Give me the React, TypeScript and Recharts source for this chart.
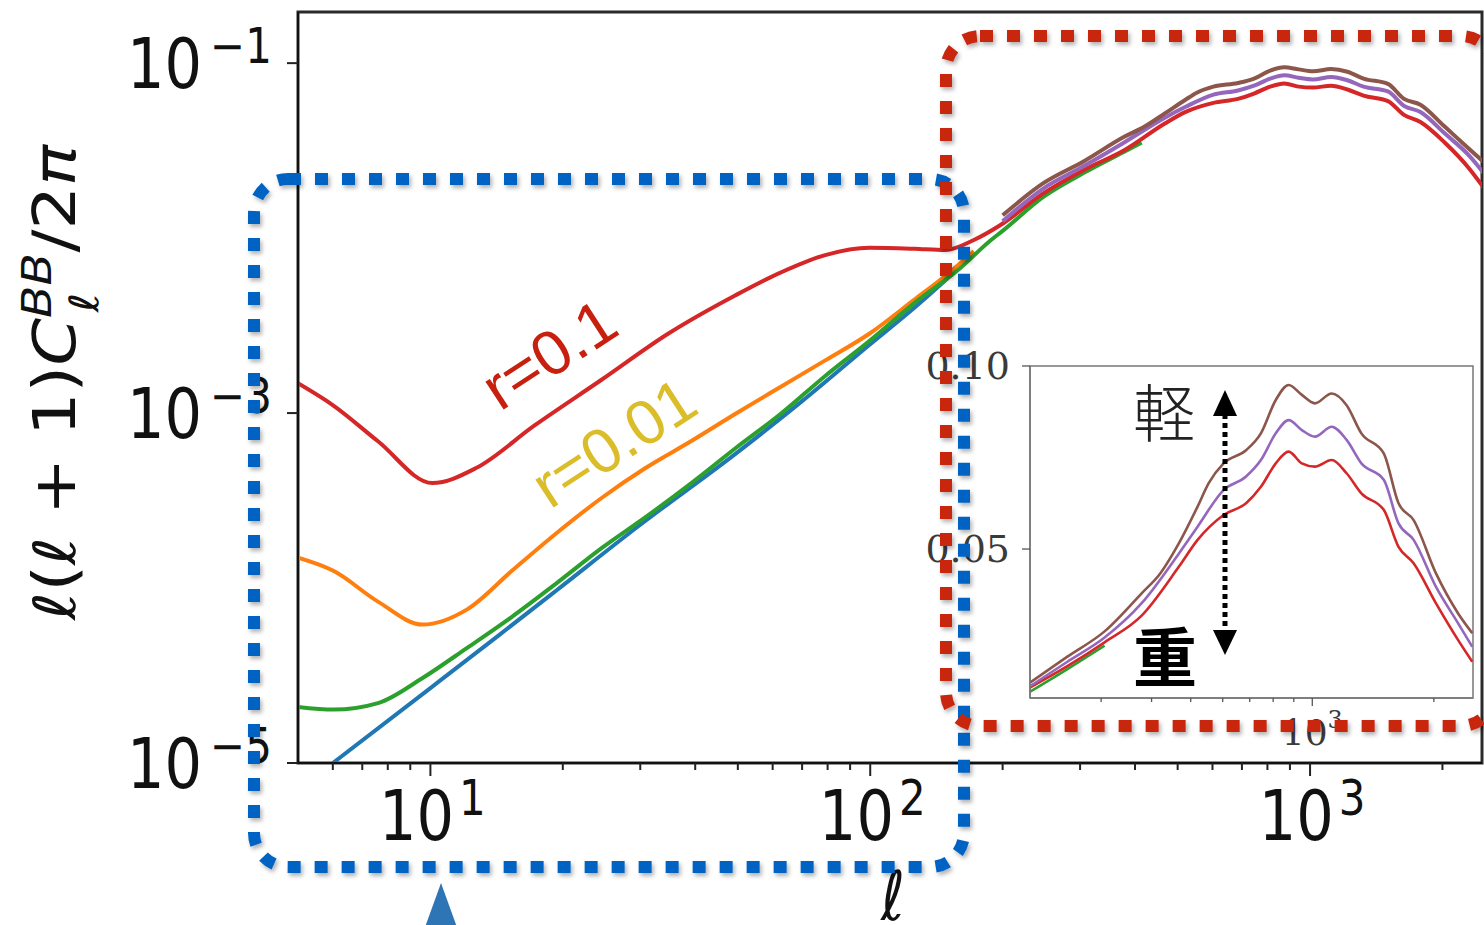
import { LineChart, Line, XAxis, YAxis, ReferenceArea } from 'recharts'

// multipole values and l(l+1)C_l/2pi, one pair of arrays per curve
const redL = [5, 6.03, 7.6, 10.1, 12.7, 17.25, 24.5, 34.7, 49.3, 62.5, 79, 99.5, 126, 148, 172, 197, 247.5, 306, 378, 467.6, 520, 603, 685.5, 746, 812, 874, 942, 1015, 1117, 1216, 1323, 1503, 1635, 1782, 2023, 2297, 2490]
const redV = [1.48e-3, 1.1e-3, 6.9e-4, 3.98e-4, 4.85e-4, 8.5e-4, 1.55e-3, 2.84e-3, 4.7e-3, 6.35e-3, 8.0e-3, 8.82e-3, 8.69e-3, 8.54e-3, 9.75e-3, 0.0118, 0.018, 0.0245, 0.0318, 0.0452, 0.0525, 0.0593, 0.0625, 0.067, 0.0734, 0.0766, 0.0734, 0.0725, 0.0743, 0.0707, 0.0652, 0.0607, 0.0506, 0.0461, 0.0352, 0.0251, 0.0192]

const orangeL = [5, 6.03, 7.6, 9.6, 12.15, 15.3, 19.4, 24.5, 30.9, 39.2, 49.3, 62.5, 79, 99.5, 126, 148, 172]
const orangeV = [1.49e-4, 1.25e-4, 8.36e-5, 6.18e-5, 7.58e-5, 1.25e-4, 2.07e-4, 3.27e-4, 4.87e-4, 6.92e-4, 9.87e-4, 1.41e-3, 2.0e-3, 2.84e-3, 4.45e-3, 6.07e-3, 8.4e-3]

const greenL = [5, 6.03, 7.6, 9.6, 12.15, 15.3, 19.4, 24.5, 30.9, 39.2, 49.3, 62.5, 79, 99.5, 126, 159.6, 186.8, 200, 247.5, 306, 378, 414]
const greenV = [2.09e-5, 2.02e-5, 2.2e-5, 3.06e-5, 4.57e-5, 6.83e-5, 1.07e-4, 1.69e-4, 2.55e-4, 3.98e-4, 6.27e-4, 9.87e-4, 1.63e-3, 2.58e-3, 4.25e-3, 6.68e-3, 9.6e-3, 0.011, 0.0172, 0.0236, 0.0312, 0.0352]

const blueL = [6, 10, 14.35, 19.4, 30, 49.3, 70, 99.5, 126, 150]
const blueV = [1.0e-5, 2.68e-5, 5.4e-5, 9.75e-5, 2.3e-4, 5.83e-4, 1.17e-3, 2.45e-3, 4.0e-3, 5.9e-3]

const purpleL = [200, 247.5, 306, 378, 467.6, 520, 603, 685.5, 746, 812, 874, 942, 1015, 1117, 1216, 1323, 1503, 1635, 1782, 2023, 2297, 2490]
const purpleV = [0.0125, 0.0192, 0.0258, 0.0352, 0.0488, 0.0561, 0.0661, 0.0698, 0.0743, 0.0816, 0.0852, 0.0825, 0.0807, 0.0834, 0.0798, 0.0734, 0.0689, 0.057, 0.0525, 0.0397, 0.0297, 0.0233]

const brownL = [200, 247.5, 306, 378, 420.7, 467.6, 520, 554, 603, 685.5, 746, 812, 874, 942, 1015, 1117, 1216, 1323, 1503, 1635, 1782, 2023, 2297, 2490]
const brownV = [0.0135, 0.0206, 0.0275, 0.0379, 0.0434, 0.0516, 0.0616, 0.068, 0.0734, 0.077, 0.0816, 0.0907, 0.0948, 0.0921, 0.0898, 0.0925, 0.0893, 0.0816, 0.0761, 0.0625, 0.0579, 0.0434, 0.0324, 0.027]

const mainXTicks = [6, 7, 8, 9, 10, 20, 30, 40, 50, 60, 70, 80, 90, 100, 200, 300, 400, 500, 600, 700, 800, 900, 1000, 2000]
const mainYTicks = [1e-5, 1e-3, 1e-1]
const insetXTicks = [300, 400, 500, 600, 700, 800, 900, 1000, 2000]
const insetYTicks = [0.05, 0.1]
const insetYLabels = ['0.05', '0.10']

const zip = (ls: number[], vs: number[]) => ls.map((l, i) => ({ l, v: vs[i] }))
const red = zip(redL, redV)
const orange = zip(orangeL, orangeV)
const green = zip(greenL, greenV)
const blue = zip(blueL, blueV)
const purple = zip(purpleL, purpleV)
const brown = zip(brownL, brownV)
const between = (d: { l: number; v: number }[], lo: number, hi = Infinity) => d.filter(p => p.l >= lo && p.l <= hi)

const C = { blue: '#1f77b4', orange: '#ff7f0e', green: '#2ca02c', red: '#d62728', purple: '#9467bd', brown: '#8c564b' }
const SANS = '"DejaVu Sans", sans-serif'
const SERIF = '"DejaVu Serif", serif'
const ARIAL = '"Liberation Sans", Arial, sans-serif'

const isMajor = (v: number) => Math.abs(Math.log10(v) - Math.round(Math.log10(v))) < 1e-6

function MainXTick({ x, y, payload }: any) {
  const v = payload.value
  const major = isMajor(v)
  return (
    <g>
      <line x1={x} x2={x} y1={y} y2={y + (major ? 13 : 7)} stroke="#222" strokeWidth={2} />
      {major && (
        <g transform={`translate(${x + 2},${y}) scale(1,1.18)`}>
          <text y={65} textAnchor="middle" fontFamily={SANS} fontSize={59} fill="#111">
            <tspan>10</tspan>
            <tspan dx={5} dy={-21} fontSize={42}>{Math.round(Math.log10(v))}</tspan>
          </text>
        </g>
      )}
    </g>
  )
}

function MainYTick({ x, y, payload }: any) {
  const p = Math.round(Math.log10(payload.value))
  return (
    <g>
      <line x1={x - 11} x2={x} y1={y} y2={y} stroke="#222" strokeWidth={2} />
      <g transform={`translate(${x - 26},${y}) scale(1,1.18)`}>
        <text y={21} textAnchor="end" fontFamily={SANS} fontSize={59} fill="#111">
          <tspan>10</tspan>
          <tspan dx={8} dy={-21} fontSize={42}>{'\u2212' + -p}</tspan>
        </text>
      </g>
    </g>
  )
}

function InsetXTick({ x, y, payload }: any) {
  const major = isMajor(payload.value)
  return (
    <g>
      <line x1={x} x2={x} y1={y} y2={y + (major ? 8 : 4)} stroke="#555" strokeWidth={1.3} />
      {major && (
        <text x={x} y={y + 47} textAnchor="middle" fontFamily={SERIF} fontSize={36} fill="#3a3a3a">
          <tspan>10</tspan>
          <tspan dy={-17} fontSize={24}>3</tspan>
        </text>
      )}
    </g>
  )
}

function InsetYTick({ x, y, payload }: any) {
  const label = insetYLabels[insetYTicks.indexOf(payload.value)]
  return (
    <g>
      <line x1={x - 8} x2={x} y1={y} y2={y} stroke="#555" strokeWidth={1.3} />
      <text x={x - 20} y={y + 13} textAnchor="end" fontFamily={SERIF} fontSize={38} fill="#3a3a3a">{label}</text>
    </g>
  )
}

function MainChart() {
  const lw = 4
  return (
    <LineChart width={1484} height={925} margin={{ top: 12, right: 2, bottom: 0, left: 0 }}>
      <XAxis dataKey="l" type="number" scale="log" domain={[5, 2460]} allowDataOverflow
        ticks={mainXTicks} interval={0} height={162} tickSize={0} tickMargin={0} tickLine={false}
        axisLine={{ stroke: '#111', strokeWidth: 2 }} tick={<MainXTick />} />
      <YAxis type="number" scale="log" domain={[1e-5, 0.196]} allowDataOverflow
        ticks={mainYTicks} interval={0} width={298} tickSize={0} tickMargin={0} tickLine={false}
        axisLine={{ stroke: '#111', strokeWidth: 2 }} tick={<MainYTick />} />
      <ReferenceArea x1={5} x2={2460} y1={1e-5} y2={0.196} fill="none" stroke="#2a2a2a" strokeWidth={3} />
      <Line data={blue} dataKey="v" type="monotone" stroke={C.blue} strokeWidth={lw} dot={false} activeDot={false} isAnimationActive={false} />
      <Line data={orange} dataKey="v" type="monotone" stroke={C.orange} strokeWidth={lw} dot={false} activeDot={false} isAnimationActive={false} />
      <Line data={green} dataKey="v" type="monotone" stroke={C.green} strokeWidth={lw} dot={false} activeDot={false} isAnimationActive={false} />
      <Line data={red} dataKey="v" type="monotone" stroke={C.red} strokeWidth={lw} dot={false} activeDot={false} isAnimationActive={false} />
      <Line data={purple} dataKey="v" type="monotone" stroke={C.purple} strokeWidth={lw} dot={false} activeDot={false} isAnimationActive={false} />
      <Line data={brown} dataKey="v" type="monotone" stroke={C.brown} strokeWidth={lw} dot={false} activeDot={false} isAnimationActive={false} />
    </LineChart>
  )
}

function InsetChart() {
  const lw = 2.6
  return (
    <LineChart width={580} height={420} margin={{ top: 20, right: 7, bottom: 0, left: 0 }}>
      <XAxis dataKey="l" type="number" scale="log" domain={[200, 2500]} allowDataOverflow
        ticks={insetXTicks} interval={0} height={68} tickSize={0} tickMargin={0} tickLine={false}
        axisLine={{ stroke: '#777', strokeWidth: 1.5 }} tick={<InsetXTick />} />
      <YAxis type="number" domain={[0.0093, 0.1]} allowDataOverflow
        ticks={insetYTicks} interval={0} width={130} tickSize={0} tickMargin={0} tickLine={false}
        axisLine={{ stroke: '#777', strokeWidth: 1.5 }} tick={<InsetYTick />} />
      <ReferenceArea x1={200} x2={2500} y1={0.0093} y2={0.1} fill="none" stroke="#777" strokeWidth={1.5} />
      <Line data={between(green, 200, 306)} dataKey="v" type="monotone" stroke={C.green} strokeWidth={lw} dot={false} activeDot={false} isAnimationActive={false} />
      <Line data={between(red, 197)} dataKey="v" type="monotone" stroke={C.red} strokeWidth={lw} dot={false} activeDot={false} isAnimationActive={false} />
      <Line data={purple} dataKey="v" type="monotone" stroke={C.purple} strokeWidth={lw} dot={false} activeDot={false} isAnimationActive={false} />
      <Line data={brown} dataKey="v" type="monotone" stroke={C.brown} strokeWidth={lw} dot={false} activeDot={false} isAnimationActive={false} />
    </LineChart>
  )
}

function Overlay() {
  const dots = { fill: 'none', strokeWidth: 12, strokeDasharray: '13 14', filter: 'url(#sh)' }
  return (
    <svg width={1484} height={925} style={{ position: 'absolute', left: 0, top: 0 }}>
      <defs>
        <filter id="sh" x="-5%" y="-5%" width="110%" height="110%">
          <feDropShadow dx={2} dy={3} stdDeviation={2} floodColor="#000" floodOpacity={0.3} />
        </filter>
      </defs>

      {/* axis titles */}
      <g transform="translate(75,620) rotate(-90) scale(1.18,1)">
        <text fontFamily={SANS} fontSize={58} fill="#111">
          <tspan fontStyle="italic">ℓ</tspan>
          <tspan>(</tspan>
          <tspan fontStyle="italic">ℓ</tspan>
          <tspan>{' + 1)'}</tspan>
          <tspan fontStyle="italic">C</tspan>
          <tspan fontStyle="italic" fontSize={40} dy={-24}>BB</tspan>
          <tspan fontStyle="italic" fontSize={40} dx={-50} dy={47}>ℓ</tspan>
          <tspan dx={34} dy={-23}>/2</tspan>
          <tspan fontStyle="italic">π</tspan>
        </text>
      </g>
      <g transform="translate(893,920) scale(1,1.18)">
        <text textAnchor="middle" fontFamily={SANS} fontStyle="italic" fontSize={58} fill="#111">ℓ</text>
      </g>

      {/* curve labels */}
      <text transform="translate(500,412) rotate(-33)" fontFamily={ARIAL} fontSize={63} fill="#c8200e">r=0.1</text>
      <text transform="translate(550,510) rotate(-33)" fontFamily={ARIAL} fontSize={63} fill="#dbbd2a">r=0.01</text>

      {/* light / heavy arrow in the inset */}
      <text x={1133} y={437} fontFamily='"Noto Sans CJK JP", sans-serif' fontWeight={300} fontSize={62} fill="#222">軽</text>
      <text x={1133} y={681} fontFamily='"Noto Sans CJK JP", sans-serif' fontWeight={700} fontSize={64} fill="#000">重</text>
      <line x1={1225} x2={1225} y1={414} y2={632} stroke="#000" strokeWidth={5} strokeDasharray="5 4" />
      <polygon points="1225,390 1213,416 1237,416" fill="#000" />
      <polygon points="1225,655 1213,630 1237,630" fill="#000" />

      {/* highlight boxes */}
      <rect x={254} y={179} width={710} height={688} rx={34} stroke="#0564c3" {...dots} />
      <rect x={946} y={36} width={549} height={690} rx={34} stroke="#c8250c" {...dots} />
      <polygon points="441,883 424,930 458,930" fill="#2e75b6" />
    </svg>
  )
}

export default function App() {
  return (
    <div style={{ position: 'absolute', left: 0, top: 0, width: 1484, height: 925, background: '#fff', overflow: 'hidden' }}>
      <MainChart />
      <div style={{ position: 'absolute', left: 900, top: 346, width: 580, height: 420 }}>
        <InsetChart />
      </div>
      <Overlay />
    </div>
  )
}
